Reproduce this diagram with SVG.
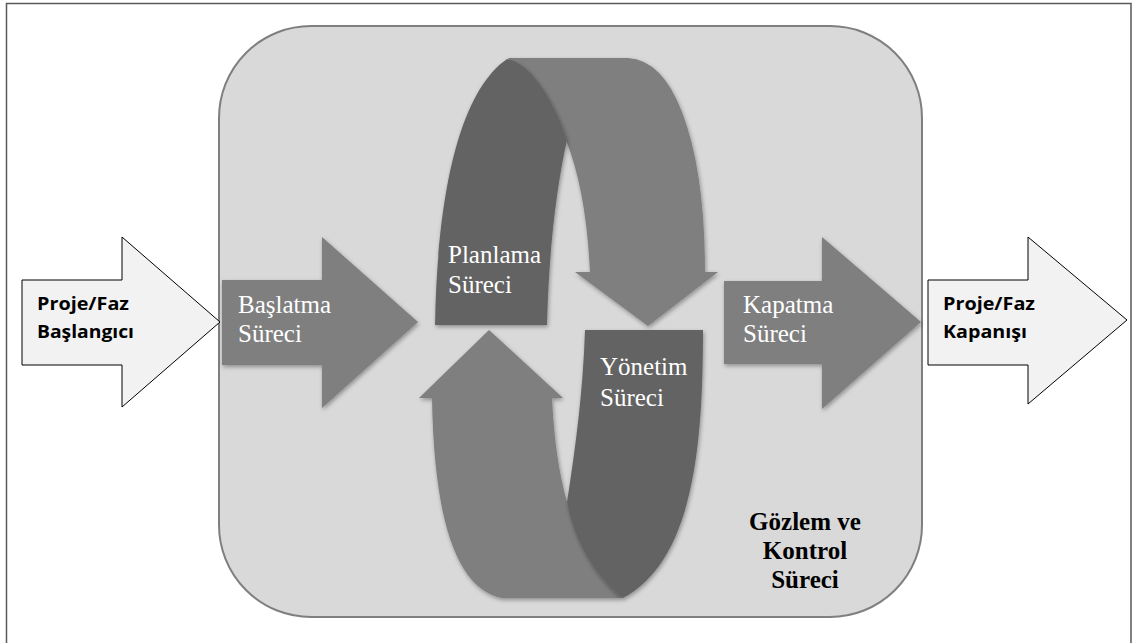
<svg xmlns="http://www.w3.org/2000/svg" width="1139" height="643" viewBox="0 0 1139 643">
  <defs>
    <filter id="soft" x="-20%" y="-20%" width="140%" height="140%">
      <feDropShadow dx="1" dy="2" stdDeviation="2" flood-color="#000" flood-opacity="0.35"/>
    </filter>
    <style>
      .frame { fill: none; stroke: #5a5a5a; stroke-width: 1.5; }
      .panel { fill: #d9d9d9; stroke: #7f7f7f; stroke-width: 2; }
      .ext { fill: #f2f2f2; stroke: #000; stroke-width: 1; }
      .mid { fill: #7f7f7f; filter: url(#soft); }
      .dark { fill: #646464; filter: url(#soft); }
      .lbl { font-family: "Liberation Serif", "Times New Roman", serif; font-size: 25px; fill: #ffffff; }
      .ext-lbl { font-family: "Open Sans", "Liberation Sans", sans-serif; font-weight: bold; font-size: 18px; fill: #000; }
      .ctl { font-family: "Liberation Serif", "Times New Roman", serif; font-weight: bold; font-size: 25px; fill: #000; text-anchor: middle; }
    </style>
  </defs>

  <!-- outer frame (bottom edge falls outside the canvas) -->
  <path class="frame" d="M6.5,650 L6.5,3.5 L1131,3.5 L1131,650"/>

  <!-- monitoring and control container -->
  <g id="gozlem-kontrol">
    <rect class="panel" x="219" y="26" width="703" height="591" rx="92" ry="92"/>
    <text class="ctl" x="805" y="530">Gözlem ve</text>
    <text class="ctl" x="805" y="559">Kontrol</text>
    <text class="ctl" x="805" y="588">Süreci</text>
  </g>

  <g id="connectors">
    <!-- project/phase start -->
    <g id="proje-baslangic">
      <path class="ext" d="M22,280 L122,280 L122,237 L220,322 L122,407 L122,365 L22,365 Z"/>
      <text class="ext-lbl" x="37" y="310" textLength="92" lengthAdjust="spacingAndGlyphs">Proje/Faz</text>
      <text class="ext-lbl" x="37" y="338" textLength="97" lengthAdjust="spacingAndGlyphs">Başlangıcı</text>
    </g>

    <!-- project/phase closing -->
    <g id="proje-kapanis">
      <path class="ext" d="M928,280 L1028,280 L1028,237 L1127,320 L1028,404 L1028,365 L928,365 Z"/>
      <text class="ext-lbl" x="943" y="310" textLength="92" lengthAdjust="spacingAndGlyphs">Proje/Faz</text>
      <text class="ext-lbl" x="943" y="338" textLength="84" lengthAdjust="spacingAndGlyphs">Kapanışı</text>
    </g>
  </g>

  <!-- initiating process -->
  <g id="baslatma">
    <path class="mid" d="M222,280 L322,280 L322,237 L418,322 L322,408 L322,365 L222,365 Z"/>
    <text class="lbl" x="238" y="313">Başlatma</text>
    <text class="lbl" x="238" y="342">Süreci</text>
  </g>

  <!-- closing process -->
  <g id="kapatma">
    <path class="mid" d="M724,281 L822,281 L822,237 L921,322 L822,409 L822,364 L724,364 Z"/>
    <text class="lbl" x="743" y="313">Kapatma</text>
    <text class="lbl" x="743" y="342">Süreci</text>
  </g>

  <!-- planning process: curved arrow turning down -->
  <g id="planlama">
    <path class="mid" d="M508,58 L628,58 Q662,60 682,112 Q705,172 705,272 L718,272 L648,326 L575,272 L590,272 Q586,190 566,140 Z"/>
    <path class="dark" d="M435,325 C437,210 455,95 507,59 C528,62 552,95 567,140 C556,190 549,250 547,325 Z"/>
    <text class="lbl" x="448" y="263">Planlama</text>
    <text class="lbl" x="448" y="293">Süreci</text>
  </g>

  <!-- executing process: curved arrow turning up -->
  <g id="yonetim">
    <path class="mid" d="M489,330 L563,398 L552,398 Q555,460 567,502 Q585,570 623,598 L502,598 Q435,585 432,398 L419,398 Z"/>
    <path class="dark" d="M585,330 L703,330 C703,440 695,560 623,598 C600,582 575,545 567,502 C576,445 583,390 585,330 Z"/>
    <text class="lbl" x="600" y="375">Yönetim</text>
    <text class="lbl" x="600" y="406">Süreci</text>
  </g>
</svg>
